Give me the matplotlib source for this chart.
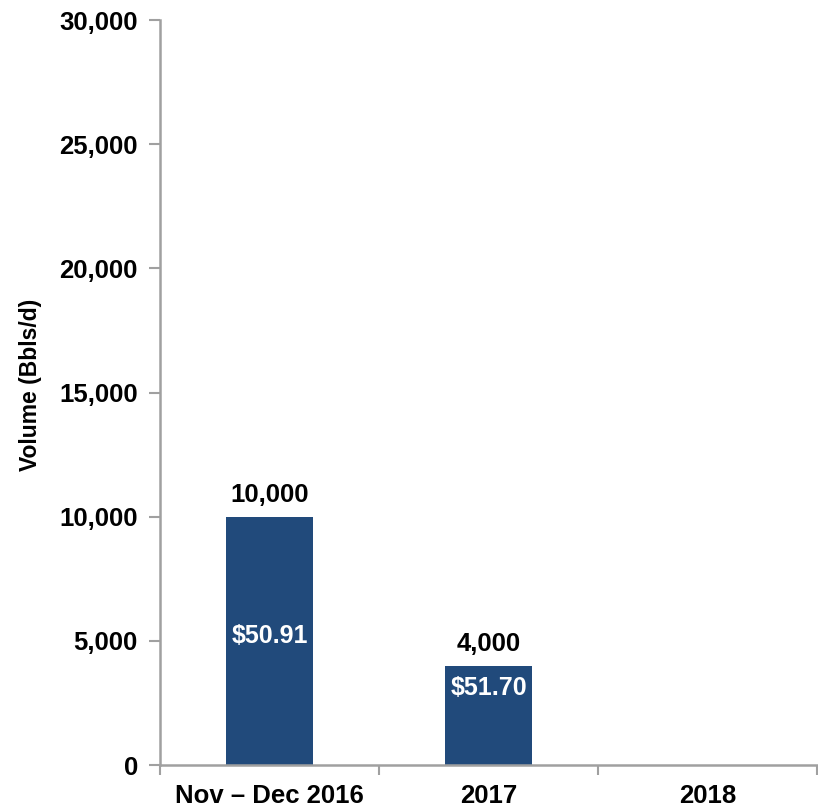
import matplotlib.pyplot as plt
from matplotlib.ticker import FuncFormatter, FixedLocator

plt.rcParams['font.family'] = ['Liberation Sans', 'DejaVu Sans']
plt.rcParams['font.weight'] = 'bold'

# data
categories = ["Nov \u2013 Dec 2016", "2017", "2018"]
volumes = [10000, 4000, 0]
value_labels = ["10,000", "4,000", ""]
prices = ["$50.91", "$51.70", ""]
price_label_y = [5200, 3100, 0]

bar_color = "#214A7B"
axis_color = "#A0A0A0"

fig = plt.figure(figsize=(8.18, 8.08), dpi=100)
ax = fig.add_axes([0.1956, 0.0532, 0.8032, 0.9218])

x = range(len(categories))
ax.bar(x, volumes, width=0.4, color=bar_color)

for i, v in enumerate(volumes):
    if value_labels[i]:
        ax.text(i, v + 400, value_labels[i], ha="center", va="bottom",
                fontsize=18.5, fontweight="bold", color="black")
    if prices[i]:
        ax.text(i, price_label_y[i], prices[i], ha="center", va="center",
                fontsize=18, fontweight="bold", color="white")

ax.set_xlim(-0.5, 2.5)
ax.set_ylim(0, 30000)
ax.set_yticks(range(0, 30001, 5000))
ax.yaxis.set_major_formatter(FuncFormatter(lambda v, p: f"{int(v):,}"))

# category labels centred, ticks at boundaries
ax.set_xticks([-0.5, 0.5, 1.5, 2.5])
ax.set_xticklabels([])
ax.xaxis.set_minor_locator(FixedLocator(list(x)))
ax.set_xticklabels(categories, minor=True)
ax.tick_params(axis="x", which="minor", length=0, pad=14, labelsize=18.5)
ax.tick_params(axis="x", which="major", length=7, width=1.5, color=axis_color)
ax.tick_params(axis="y", length=8, width=1.5, color=axis_color, labelsize=18.5, pad=8)
for lbl in ax.get_xticklabels(minor=True) + ax.get_yticklabels():
    lbl.set_fontweight("bold")

ax.set_ylabel("Volume (Bbls/d)", fontsize=16.5, fontweight="bold")
ax.yaxis.set_label_coords(-0.179, 0.51)

for side in ["top", "right"]:
    ax.spines[side].set_visible(False)
for side in ["left", "bottom"]:
    ax.spines[side].set_color(axis_color)
    ax.spines[side].set_linewidth(1.8)

fig.savefig("out.png", dpi=100)
